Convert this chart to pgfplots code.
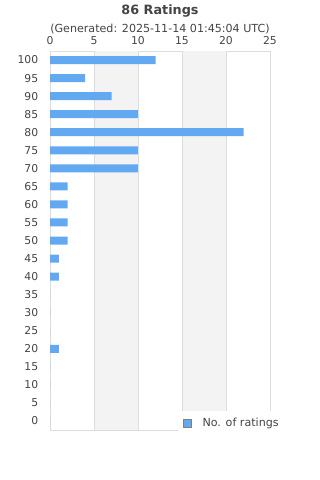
\documentclass[border=0pt]{standalone}
\usepackage{pgfplots}
\pgfplotsset{compat=1.18}
\usepackage{fontspec}
\setmainfont{DejaVu Sans}
\definecolor{txt}{HTML}{444444}
\definecolor{barc}{HTML}{63A9F2}
\definecolor{gridc}{HTML}{DDDDDD}
\definecolor{band}{HTML}{F3F3F3}
\begin{document}
\begin{tikzpicture}
\path[use as bounding box] (0pt,0pt) rectangle (320pt,-480pt);
\node[text=txt,font=\fontsize{12.8}{14}\selectfont\bfseries] at (160pt,-11.5pt) {86 Ratings};
\node[text=txt,font=\fontsize{11.1}{13}\selectfont] at (160pt,-29pt) {(Generated: 2025-11-14 01:45:04 UTC)};
\begin{axis}[
  at={(50pt,-51pt)}, anchor=north west,
  scale only axis, width=220pt, height=379pt,
  xbar, bar width=8pt,
  xmin=0, xmax=25, ymin=-2.5, ymax=102.5,
  xtick={0,5,10,15,20,25}, ytick={0,5,...,100},
  xticklabel pos=top,
  tick style={draw=none},
  axis line style={draw=gridc, line width=0.8pt},
  ticklabel style={text=txt, font=\fontsize{10.8}{12}\selectfont},
  /pgf/number format/assume math mode=true,
  xticklabel style={yshift=2.5pt},
  yticklabel style={xshift=-4pt},
  legend style={at={(rel axis cs:0.582,0.05)}, anchor=north west, draw=none, fill=white, text=txt, font=\fontsize{11.1}{13}\selectfont, inner xsep=5pt, inner ysep=5pt},
  legend image code/.code={\draw[fill=barc,draw=gray,line width=0.7pt] (0pt,-4pt) rectangle (8pt,4pt); \path (17pt,0pt);},
  clip=false,
]
\fill[band] (axis cs:5,-2.5) rectangle (axis cs:10,102.5);
\fill[band] (axis cs:15,-2.5) rectangle (axis cs:20,102.5);
\pgfplotsinvokeforeach{5,10,15,20}{\draw[gridc, line width=0.8pt] (axis cs:#1,-2.5) -- (axis cs:#1,102.5);}
\addplot[fill=barc, draw=none] coordinates {
(12,100) (4,95) (7,90) (10,85) (22,80) (10,75) (10,70) (2,65) (2,60) (2,55) (2,50) (1,45) (1,40) (0,35) (0,30) (0,25) (1,20) (0,15) (0,10) (0,5) (0,0)
};
\addlegendentry{No. of ratings}
\end{axis}
\end{tikzpicture}
\end{document}
